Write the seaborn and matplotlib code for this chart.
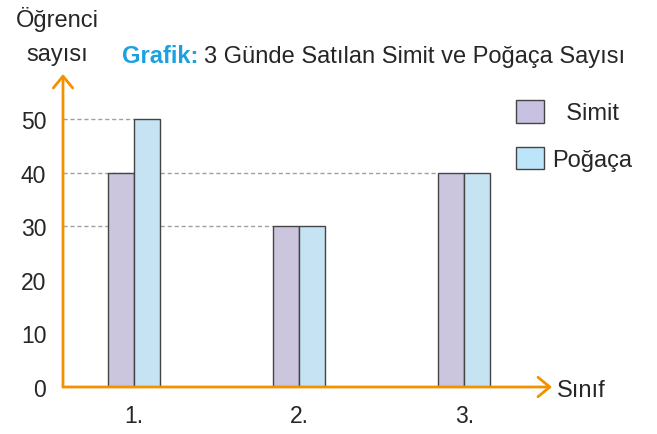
import pandas as pd
import matplotlib
matplotlib.use('Agg')
import matplotlib.pyplot as plt
import matplotlib.patches as mpatches
import seaborn as sns

days = ['1.', '2.', '3.']
simit = [40, 30, 40]
pogaca = [50, 30, 40]
series = ['Simit', 'Poğaça']
legend_labels = ['  Simit', 'Poğaça']
yticks = [0, 10, 20, 30, 40, 50]

orange = '#F39200'
colors = {'Simit': '#C9C1E1', 'Poğaça': '#BDE5F9'}

df = pd.DataFrame({
    'gun': days * 2,
    'tur': ['Simit'] * 3 + ['Poğaça'] * 3,
    'sayi': simit + pogaca,
})

sns.set_style('white')
plt.rcParams['font.family'] = ['Liberation Sans', 'DejaVu Sans']

fig = plt.figure(figsize=(6.57, 4.35), dpi=100)
W, H = 657, 435
ax = fig.add_axes([63 / W, 1 - 388 / H, (552 - 63) / W, (388 - 75) / H])

sns.barplot(data=df, x='gun', y='sayi', hue='tur', order=days, hue_order=series,
            palette=colors, width=0.315, gap=0, edgecolor='#444444', linewidth=1,
            legend=False, ax=ax, zorder=3)

ax.set_xlim(-0.43, 2.53)
ax.set_ylim(0, 58.4)

# dashed guide lines from axis to the farthest group reaching each value
xmin = ax.get_xlim()[0]
guides = {}
for p in ax.patches:
    h = round(p.get_height())
    x = p.get_x()
    if h not in guides or x - guides[h] > 0.5:
        guides[h] = x
for h, x in guides.items():
    ax.plot([xmin, x], [h, h], color='#A0A0A0', lw=1, ls=(0, (3, 2)), zorder=1)

for s in ax.spines.values():
    s.set_visible(False)

arrow = dict(arrowstyle='->,head_length=0.85,head_width=0.7',
             color=orange, lw=2, shrinkA=0, shrinkB=0)
ax.annotate('', xy=(1, 0), xytext=(0, 0), xycoords='axes fraction', arrowprops=arrow)
ax.annotate('', xy=(0, 1), xytext=(0, 0), xycoords='axes fraction', arrowprops=arrow)

ax.set_yticks(yticks)
ax.set_yticklabels([str(v) for v in yticks], fontsize=16.5)
ax.tick_params(axis='y', direction='inout', length=14, width=2, color=orange, pad=5)
ax.tick_params(axis='x', length=0, pad=12, labelsize=16.5)
ax.set_xlabel('')
ax.set_ylabel('')

fig.text(57 / W, 1 - 27 / H, 'Öğrenci', fontsize=17, ha='center', va='baseline')
fig.text(57 / W, 1 - 61 / H, 'sayısı', fontsize=17, ha='center', va='baseline')
fig.text(557 / W, 1 - 397 / H, 'Sınıf', fontsize=17, ha='left', va='baseline')

t1 = fig.text(122 / W, 1 - 63 / H, 'Grafik:', fontsize=17, fontweight='bold',
              color='#1BA0E1', ha='left', va='baseline')
ax.annotate('3 Günde Satılan Simit ve Poğaça Sayısı', xy=(1, 0), xycoords=t1,
            xytext=(4, 0), textcoords='offset points', fontsize=17,
            ha='left', va='bottom', annotation_clip=False)

handles = [mpatches.Patch(facecolor=colors[s], edgecolor='#444444', lw=1, label=lab)
           for s, lab in zip(series, legend_labels)]
ax.legend(handles=handles, loc='upper left', bbox_to_anchor=(516 / W, 1 - 101 / H),
          bbox_transform=fig.transFigure, frameon=False, fontsize=17, borderpad=0,
          borderaxespad=0, handlelength=1.2, handleheight=1.1, labelspacing=0.95,
          handletextpad=0.35)

fig.savefig('out.png', dpi=100)
